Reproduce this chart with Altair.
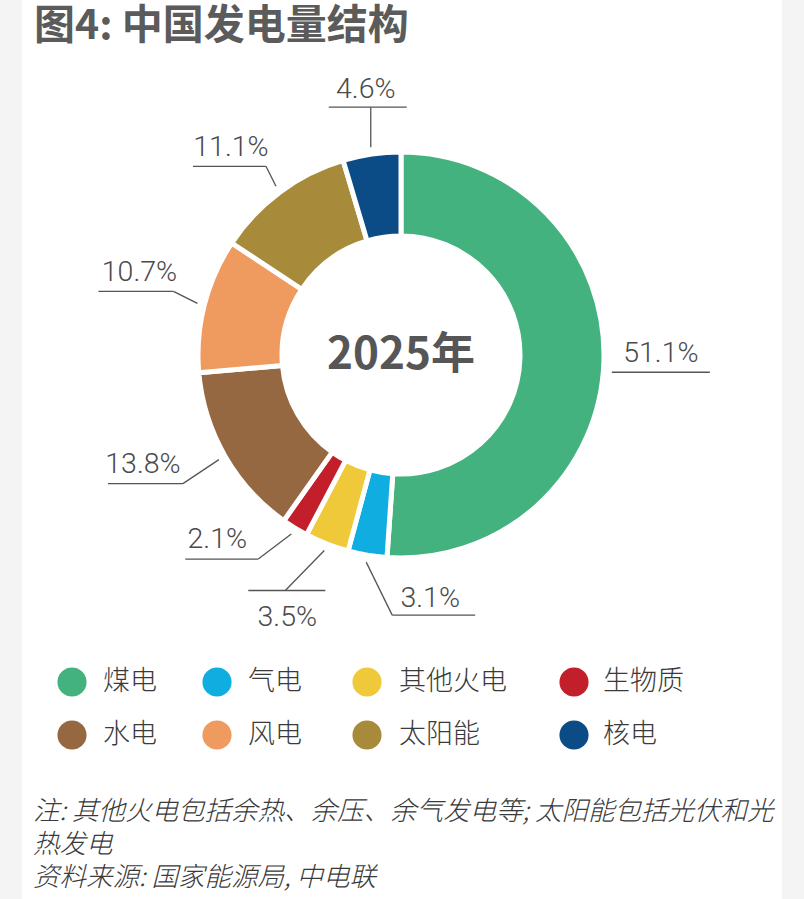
import math
import altair as alt
import pandas as pd

# ---- data ----
categories = ["煤电", "气电", "其他火电", "生物质", "水电", "风电", "太阳能", "核电"]
shares = [51.1, 3.1, 3.5, 2.1, 13.8, 10.7, 11.1, 4.6]
colors = ["#43b27f", "#10aee0", "#f0c93a", "#c21f2a", "#956842", "#ef9a5e", "#a88b3a", "#0c4c86"]
labels = ["51.1%", "3.1%", "3.5%", "2.1%", "13.8%", "10.7%", "11.1%", "4.6%"]
center_text = "2025年"
title_text = "图4: 中国发电量结构"
notes = ["注: 其他火电包括余热、余压、余气发电等; 太阳能包括光伏和光", "热发电", "资料来源: 国家能源局, 中电联"]

# ---- layout (pixels) ----
W, H = 804, 899
CX, CY = 401, 355
R_IN, R_OUT = 119, 203
R_ANCHOR = 210
# elbow offset from anchor, underline extent from elbow, text offset from elbow
elbow_off = [(1, 10), (26, 53), (-39, 40), (-33, 25), (-36, 24), (-24, -12), (-10, -20), (0, -40)]
draw_leader = [False, True, True, True, True, True, True, True]
underline = [(0, 98), (0, 83), (-37, 40), (-73, 0), (-75, 0), (-75, 0), (-73, 0), (-42, 36)]
text_off = [(49, -10), (38, -8), (2, 36), (-41, -11), (-40, -11), (-34, -10), (-35, -10), (-5, -9)]
legend_x = [72, 217, 367, 574]
legend_text_x = [103, 248, 399, 603]
legend_y = [682, 735]

# ---- derived tables ----
total = sum(shares)
rows_seg, rows_lab = [], []
cum = 0.0
for i, (c, v) in enumerate(zip(categories, shares)):
    mid = (cum + v / 2) / total * 2 * math.pi
    cum += v
    ax = CX + R_ANCHOR * math.sin(mid)
    ay = CY - R_ANCHOR * math.cos(mid)
    ex, ey = ax + elbow_off[i][0], ay + elbow_off[i][1]
    if draw_leader[i]:
        rows_seg.append({"x0": ax, "y0": ay, "x1": ex, "y1": ey})
    rows_seg.append({"x0": ex + underline[i][0], "y0": ey, "x1": ex + underline[i][1], "y1": ey})
    rows_lab.append({"x": ex + text_off[i][0], "y": ey + text_off[i][1], "t": labels[i]})

pie_df = pd.DataFrame({"cat": categories, "value": shares, "idx": list(range(len(categories)))})
seg_df = pd.DataFrame(rows_seg)
lab_df = pd.DataFrame(rows_lab)
leg_df = pd.DataFrame({
    "cat": categories,
    "cx": [legend_x[i % 4] for i in range(8)],
    "tx": [legend_text_x[i % 4] for i in range(8)],
    "y": [legend_y[i // 4] for i in range(8)],
})
note_df = pd.DataFrame({"t": notes, "x": [33, 33, 33], "y": [812, 845, 878]})

xs = alt.Scale(domain=[0, W], range=[0, W])
ys = alt.Scale(domain=[0, H], range=[0, H])


def X(f):
    return alt.X(f, type="quantitative", scale=xs, axis=None)


def Y(f):
    return alt.Y(f, type="quantitative", scale=ys, axis=None)


cscale = alt.Scale(domain=categories, range=colors)

bg = alt.Chart(pd.DataFrame({"a": [0]})).mark_rect(color="white").encode(
    x=alt.value(22), x2=alt.value(782), y=alt.value(0), y2=alt.value(H)
)

pie = alt.Chart(pie_df).mark_arc(
    innerRadius=R_IN, outerRadius=R_OUT, stroke="white", strokeWidth=5
).encode(
    theta=alt.Theta("value:Q", stack=True),
    order=alt.Order("idx:Q"),
    color=alt.Color("cat:N", scale=cscale, legend=None),
    x=alt.value(CX), y=alt.value(CY),
)

segs = alt.Chart(seg_df).mark_rule(color="#555555", strokeWidth=1.3).encode(
    x=X("x0"), y=Y("y0"), x2="x1:Q", y2="y1:Q"
)

labs = alt.Chart(lab_df).mark_text(
    font="Roboto", fontWeight=300, fontSize=28.5, color="#4a4a4a", align="center", baseline="alphabetic"
).encode(x=X("x"), y=Y("y"), text="t:N")

ctext = alt.Chart(pd.DataFrame({"t": [center_text]})).mark_text(
    font="Noto Sans CJK SC", fontWeight="bold", fontSize=44, color="#565656", align="center", baseline="middle"
).encode(x=alt.value(CX), y=alt.value(CY + 1), text="t:N")

title = alt.Chart(pd.DataFrame({"t": [title_text]})).mark_text(
    font="Noto Sans CJK SC", fontWeight="bold", fontSize=41, color="#5b5b5b", align="left", baseline="middle"
).encode(x=alt.value(34), y=alt.value(27), text="t:N")

leg_dots = alt.Chart(leg_df).mark_point(filled=True, size=850, opacity=1, shape="circle").encode(
    x=X("cx"), y=Y("y"), color=alt.Color("cat:N", scale=cscale, legend=None)
)
leg_text = alt.Chart(leg_df).mark_text(
    font="Noto Sans CJK SC", fontSize=27, color="#3a3a3a", align="left", baseline="middle", fontWeight=300
).encode(x=X("tx"), y=Y("y"), text="cat:N")

note_text = alt.Chart(note_df).mark_text(
    font="Noto Sans CJK SC", fontSize=26.5, fontStyle="italic", fontWeight=300, color="#3a3a3a",
    align="left", baseline="middle"
).encode(x=X("x"), y=Y("y"), text="t:N")

chart = alt.layer(bg, pie, segs, labs, ctext, title, leg_dots, leg_text, note_text).properties(
    width=W, height=H, background="#f4f4f4", padding=0, autosize=alt.AutoSizeParams(type="none")
).configure_view(stroke=None)

chart.save("out.html", embed_options={"renderer": "svg", "actions": False})
